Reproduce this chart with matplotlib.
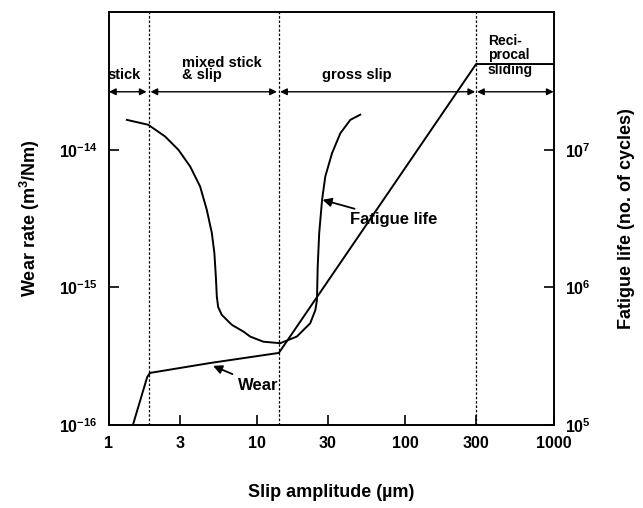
import matplotlib
matplotlib.use("Agg")
import matplotlib.pyplot as plt
import numpy as np

plt.rcParams["font.family"] = ["Liberation Sans", "DejaVu Sans"]
plt.rcParams["font.weight"] = "bold"
plt.rcParams["axes.labelweight"] = "bold"
plt.rcParams["mathtext.fontset"] = "custom"
plt.rcParams["mathtext.rm"] = "Liberation Sans:bold"
plt.rcParams["mathtext.bf"] = "Liberation Sans:bold"
plt.rcParams["mathtext.it"] = "Liberation Sans:bold:italic"
plt.rcParams["mathtext.default"] = "rm"

# wear rate curve (left axis, m^3/Nm)
wear_x = [1.45, 1.81, 1.89, 4.8, 14, 300, 1000]
wear_y = [1.0e-16, 2.23e-16, 2.39e-16, 2.82e-16, 3.34e-16, 4.2e-14, 4.2e-14]

# fatigue life curve (right axis, cycles)
life_x = [1.32, 1.84, 2.39, 2.94, 3.53, 4.12, 4.57, 4.94, 5.14, 5.26, 5.34,
          5.45, 5.77, 6.75, 8.08, 8.97, 11.0, 14.3, 18.5, 22.8, 24.7, 25.3,
          25.6, 26.2, 27.4, 28.8, 32.0, 36.4, 42.5, 49.6]
life_y = [1.65e7, 1.52e7, 1.25e7, 1.0e7, 7.56e6, 5.41e6, 3.66e6, 2.49e6,
          1.78e6, 1.2e6, 8.6e5, 7.2e5, 6.31e5, 5.34e5, 4.77e5, 4.39e5,
          4.03e5, 3.93e5, 4.39e5, 5.49e5, 6.86e5, 8.11e5, 1.42e6, 2.48e6,
          4.33e6, 6.4e6, 9.46e6, 1.32e7, 1.65e7, 1.80e7]

# regime boundaries and labels
bounds = [1, 1.85, 14, 300, 1000]
regimes = ["stick", "mixed stick\n& slip", "gross slip", "Reci-\nprocal\nsliding"]

xticks = [1, 3, 10, 30, 100, 300, 1000]
wear_ticks = [1e-16, 1e-15, 1e-14]
wear_labels = ["$10^{-16}$", "$10^{-15}$", "$10^{-14}$"]
life_ticks = [1e5, 1e6, 1e7]
life_labels = ["$10^{5}$", "$10^{6}$", "$10^{7}$"]

fig = plt.figure(figsize=(6.43, 5.08), dpi=100)
ax = fig.add_axes([0.1695, 0.1634, 0.6915, 0.8126])
ax2 = ax.twinx()

ax.set_xscale("log")
ax.set_yscale("log")
ax2.set_yscale("log")
ax.set_xlim(1, 1000)
ax.set_ylim(1e-16, 1e-13)
ax2.set_ylim(1e5, 1e8)

ax.plot(wear_x, wear_y, color="black", lw=1.4, solid_joinstyle="round")
ax2.plot(life_x, life_y, color="black", lw=1.4, solid_joinstyle="round")

for b in bounds[1:-1]:
    ax.axvline(b, color="black", lw=0.9, ls=(0, (2, 1.5)))

arrow_y = 2.64e-14
gaps = [(1.0, 0.97), (1.03, 0.97), (1.02, 0.985), (1.015, 1.0)]
for i, lab in enumerate(regimes):
    x0 = bounds[i] * gaps[i][0]
    x1 = bounds[i + 1] * gaps[i][1]
    ax.annotate("", xy=(x1, arrow_y), xytext=(x0, arrow_y),
                arrowprops=dict(arrowstyle="<|-|>", color="black", lw=1.0,
                                mutation_scale=10, shrinkA=0, shrinkB=0))

ax.text(1.27, 3.1e-14, regimes[0], ha="center", va="bottom", fontsize=10.5)
ax.text(3.1, 3.1e-14, regimes[1], ha="left", va="bottom", fontsize=10.5,
        linespacing=0.85)
ax.text(47, 3.1e-14, regimes[2], ha="center", va="bottom", fontsize=10.5)
ax.text(360, 3.4e-14, regimes[3], ha="left", va="bottom", fontsize=10,
        linespacing=1.05)

ax.annotate("Wear", xy=(5.04, 2.69e-16), xytext=(7.4, 1.95e-16),
            fontsize=12, va="center", ha="left",
            arrowprops=dict(arrowstyle="-|>", color="black", lw=1.3,
                            mutation_scale=13, shrinkA=2, shrinkB=0))
ax2.annotate("Fatigue life", xy=(27.6, 4.33e6), xytext=(42.5, 3.1e6),
             fontsize=12, va="center", ha="left",
             arrowprops=dict(arrowstyle="-|>", color="black", lw=1.3,
                             mutation_scale=13, shrinkA=2, shrinkB=0))

ax.set_xticks(xticks)
ax.set_xticklabels([str(v) for v in xticks])
ax.xaxis.set_minor_locator(matplotlib.ticker.NullLocator())
ax.set_yticks(wear_ticks)
ax.set_yticklabels(wear_labels)
ax.yaxis.set_minor_locator(matplotlib.ticker.NullLocator())
ax2.set_yticks(life_ticks)
ax2.set_yticklabels(life_labels)
ax2.yaxis.set_minor_locator(matplotlib.ticker.NullLocator())

ax.tick_params(axis="both", direction="in", length=7, width=1.2,
               labelsize=11.5, pad=8)
ax2.tick_params(axis="y", direction="in", length=7, width=1.2,
                labelsize=11.5, pad=8)
for a in (ax, ax2):
    for s in a.spines.values():
        s.set_linewidth(1.2)

ax.set_xlabel("Slip amplitude (µm)", fontsize=13, labelpad=24)
ax.set_ylabel("Wear rate (m$^3$/Nm)", fontsize=13, labelpad=12)
ax2.set_ylabel("Fatigue life (no. of cycles)", fontsize=13, labelpad=20)

fig.savefig("out.png", dpi=100)
